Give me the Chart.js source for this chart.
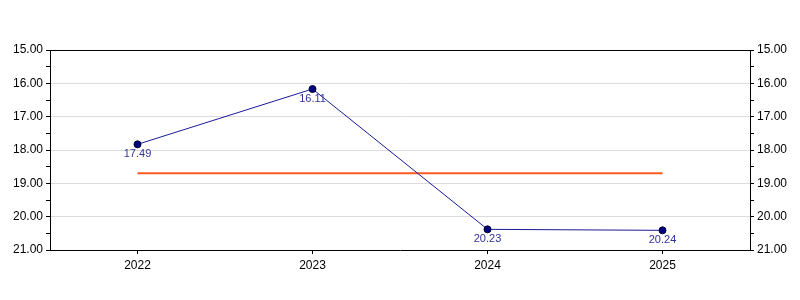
<!DOCTYPE html>
<html>
<head>
<meta charset="utf-8">
<script src="https://cdn.jsdelivr.net/npm/chart.js@4"></script>
<style>
    html, body { margin: 0; padding: 0; background: #fff; }
    #wrap { width: 800px; height: 300px; }
</style>
</head>
<body>
<div id="wrap"><canvas id="chart" width="800" height="300"></canvas></div>
<script>
const years       = ['2022', '2023', '2024', '2025'];
const values      = [17.83, 16.17, 20.38, 20.41];
const valueLabels = ['17.49', '16.11', '20.23', '20.24'];
const avgValues   = [18.70, 18.70, 18.70, 18.70];

const FAMILY     = '"Liberation Sans", Arial, sans-serif';
const TICK_FONT  = { family: FAMILY, size: 12 };
const LABEL_FONT = { family: FAMILY, size: 11 };

// frame round the plot area + value labels under each point
const framePlugin = {
    id: 'frame',
    afterDatasetsDraw(chart) {
        const { ctx, chartArea: a } = chart;
        ctx.save();
        ctx.strokeStyle = '#000';
        ctx.lineWidth = 1;
        ctx.beginPath();
        ctx.moveTo(a.left, a.top + 0.5);
        ctx.lineTo(a.right, a.top + 0.5);
        ctx.stroke();

        const meta = chart.getDatasetMeta(0);
        ctx.font = `${LABEL_FONT.size}px ${LABEL_FONT.family}`;
        ctx.fillStyle = '#333399';
        ctx.textAlign = 'center';
        ctx.textBaseline = 'top';
        meta.data.forEach((pt, i) => {
            ctx.fillText(valueLabels[i], pt.x, pt.y + 4);
        });
        ctx.restore();
    },
};

function yAxis(position, onChart) {
    return {
        type: 'linear',
        position: position,
        reverse: true,
        min: 15,
        max: 21,
        afterFit: s => { s.width = 50; },
        border: { display: true, color: '#000', width: 1 },
        grid: {
            drawOnChartArea: onChart,
            drawTicks: true,
            tickLength: 4,
            tickColor: '#000',
            color: ctx => {
                const v = ctx.tick ? ctx.tick.value : 0;
                return (Number.isInteger(v) && v > 15 && v < 21) ? '#dcdcdc' : 'rgba(0,0,0,0)';
            },
        },
        ticks: {
            stepSize: 0.5,
            autoSkip: false,
            padding: 3,
            color: '#000',
            font: TICK_FONT,
            callback: v => Number.isInteger(v) ? v.toFixed(2) : '',
        },
    };
}

new Chart(document.getElementById('chart'), {
    type: 'line',
    data: {
        labels: years,
        datasets: [
            {
                data: values,
                borderColor: '#1a1a99',
                borderWidth: 1,
                pointRadius: 3.5,
                pointBackgroundColor: '#000080',
                pointBorderColor: '#000033',
                pointBorderWidth: 1,
                tension: 0,
                yAxisID: 'y',
            },
            {
                data: avgValues,
                borderColor: '#ff5a1f',
                borderWidth: 2,
                pointRadius: 0,
                tension: 0,
                yAxisID: 'y',
            },
        ],
    },
    options: {
        responsive: false,
        animation: false,
        layout: { padding: { top: 50, left: 0, right: 0, bottom: 0 } },
        plugins: { legend: { display: false }, tooltip: { enabled: false } },
        scales: {
            x: {
                type: 'category',
                offset: true,
                afterFit: s => { s.height = 50; },
                border: { display: true, color: '#000', width: 1 },
                grid: {
                    drawOnChartArea: false,
                    drawTicks: true,
                    tickLength: 4,
                    tickColor: '#000',
                    offset: false,
                },
                ticks: { color: '#000', font: TICK_FONT, padding: 4 },
            },
            y:  yAxis('left', true),
            y2: yAxis('right', false),
        },
    },
    plugins: [framePlugin],
});
</script>
</body>
</html>
